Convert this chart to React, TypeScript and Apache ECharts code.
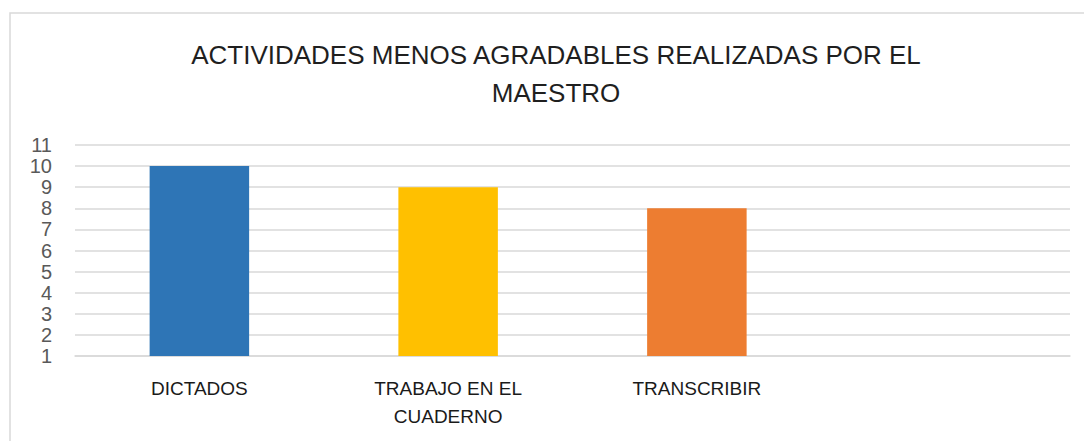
import React, { useEffect, useRef } from "react";
import * as echarts from "echarts";

const titleText = "ACTIVIDADES MENOS AGRADABLES REALIZADAS POR EL\nMAESTRO";
const categories = ["DICTADOS", "TRABAJO EN EL\nCUADERNO", "TRANSCRIBIR", ""];
const values = [10, 9, 8, null];
const colors = ["#2E75B6", "#FFC000", "#ED7D31", "#A5A5A5"];
const yMin = 1;
const yMax = 11;
const yInterval = 1;

export default function App() {
  const ref = useRef<HTMLDivElement>(null);
  useEffect(() => {
    if (!ref.current) return;
    const chart = echarts.init(ref.current, null, { renderer: "svg" });
    chart.setOption({
      animation: false,
      backgroundColor: "#ffffff",
      graphic: [
        {
          type: "rect",
          shape: { x: 10, y: 13, width: 1090, height: 440 },
          style: { fill: "none", stroke: "#d9d9d9", lineWidth: 1.5 },
          silent: true,
          z: -1,
        },
      ],
      title: {
        text: titleText,
        left: 551,
        textAlign: "center",
        top: 31,
        textStyle: {
          fontFamily: "Liberation Sans",
          fontSize: 26,
          fontWeight: "normal",
          color: "#1f1f1f",
          lineHeight: 38,
        },
      },
      grid: { left: 75, right: 14, top: 145, bottom: 85, containLabel: false },
      xAxis: {
        type: "category",
        data: categories,
        axisLine: { show: true, lineStyle: { color: "#d9d9d9", width: 1.5 } },
        axisTick: { show: false },
        axisLabel: {
          fontFamily: "Liberation Sans",
          fontSize: 19,
          color: "#1a1a1a",
          lineHeight: 28,
          margin: 18,
          interval: 0,
        },
      },
      yAxis: {
        type: "value",
        min: yMin,
        max: yMax,
        interval: yInterval,
        axisLine: { show: false },
        axisTick: { show: false },
        splitLine: { lineStyle: { color: "#d9d9d9", width: 1.5 } },
        axisLabel: {
          fontFamily: "Liberation Sans",
          fontSize: 20,
          color: "#595959",
          margin: 23,
        },
      },
      series: [
        {
          type: "bar",
          barWidth: "40%",
          data: values.map((v, i) => ({ value: v, itemStyle: { color: colors[i] } })),
        },
      ],
    });
    return () => chart.dispose();
  }, []);
  return (
    <div
      ref={ref}
      style={{ position: "fixed", left: 0, top: 0, width: 1084, height: 441 }}
    />
  );
}
